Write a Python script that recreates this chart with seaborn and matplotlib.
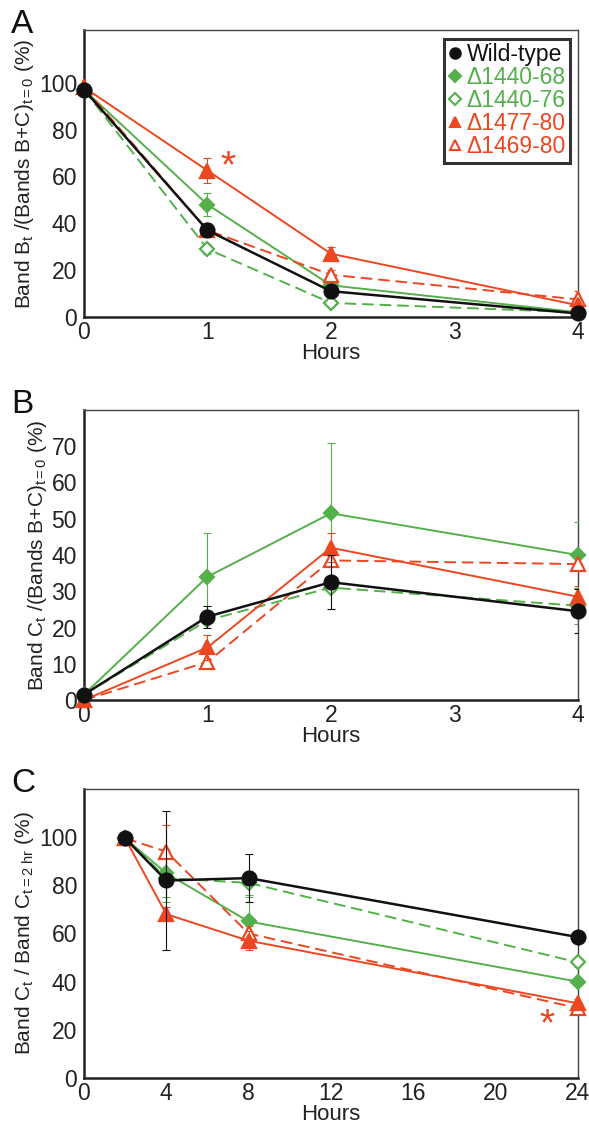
import numpy as np
import pandas as pd
import matplotlib
matplotlib.use('Agg')
import matplotlib.pyplot as plt
import seaborn as sns
from matplotlib.lines import Line2D

# --- DATA ---
SERIES = ["Wild-type", "\u03941440-68", "\u03941440-76", "\u03941477-80", "\u03941469-80"]

HOURS_AB = [0, 1, 2, 4]
HOURS_C = [2, 4, 8, 24]

A_VALUES = {
    "Wild-type": [97, 37, 11, 1.5],
    "\u03941440-68": [97, 48, 13.5, 2],
    "\u03941440-76": [97, 29, 6, 2],
    "\u03941477-80": [98, 62.5, 27, 5],
    "\u03941469-80": [98, 37, 18, 7.5],
}
A_ERR = {
    "Wild-type": [0, 3, 1.5, 1],
    "\u03941440-68": [0, 5, 2, 0],
    "\u03941440-76": [0, 2, 1, 0],
    "\u03941477-80": [0, 5.5, 3, 6],
    "\u03941469-80": [0, 0, 2, 0],
}

B_VALUES = {
    "Wild-type": [1.5, 23, 32.5, 24.5],
    "\u03941440-68": [1.5, 34, 51.5, 40],
    "\u03941440-76": [1.5, 22, 31, 26],
    "\u03941477-80": [0, 14.5, 42, 28.5],
    "\u03941469-80": [0, 10.5, 38.5, 37.5],
}
B_ERR = {
    "Wild-type": [0, 3, 7.5, 6],
    "\u03941440-68": [0, 12, 19.5, 9],
    "\u03941440-76": [0, 0, 0, 5],
    "\u03941477-80": [0, 3.5, 4, 3],
    "\u03941469-80": [0, 0, 0, 0],
}

C_VALUES = {
    "Wild-type": [99.5, 82, 83, 58.5],
    "\u03941440-68": [99.5, 85, 65, 40],
    "\u03941440-76": [99.5, 83, 81, 48],
    "\u03941477-80": [99.5, 68, 57, 31],
    "\u03941469-80": [99.5, 94, 60, 29],
}
C_ERR = {
    "Wild-type": [0, 29, 10, 2],
    "\u03941440-68": [0, 10, 10, 2],
    "\u03941440-76": [0, 10, 5, 2],
    "\u03941477-80": [0, 3, 4, 2],
    "\u03941469-80": [0, 11, 3, 2],
}

# --- STYLE ---
BLACK = "#111111"
GREEN = "#54b04a"
RED = "#ec4720"
STYLE = {
    "Wild-type": dict(color=BLACK, marker="o", ls="-", fill=True, ms=10, lw=1.8),
    "\u03941440-68": dict(color=GREEN, marker="D", ls="-", fill=True, ms=7.5, lw=1.4),
    "\u03941440-76": dict(color=GREEN, marker="D", ls="--", fill=False, ms=7.5, lw=1.4),
    "\u03941477-80": dict(color=RED, marker="^", ls="-", fill=True, ms=10, lw=1.4),
    "\u03941469-80": dict(color=RED, marker="^", ls="--", fill=False, ms=10, lw=1.4),
}
ZORDER = {"Wild-type": 6, "\u03941440-68": 4, "\u03941440-76": 3, "\u03941477-80": 5, "\u03941469-80": 4}

sns.set_style("white")
plt.rcParams['font.family'] = ['Liberation Sans', 'DejaVu Sans']
plt.rcParams['mathtext.fontset'] = 'custom'
plt.rcParams['mathtext.rm'] = 'Liberation Sans'
plt.rcParams['mathtext.it'] = 'Liberation Sans'


def draw_panel(ax, hours, values, errs):
    for name in SERIES:
        st = STYLE[name]
        df = pd.DataFrame({"Hours": hours, "val": values[name]})
        e = np.array(errs[name], dtype=float)
        mask = e > 0
        if mask.any():
            ax.errorbar(np.array(hours)[mask], np.array(values[name])[mask], yerr=e[mask],
                        fmt="none", ecolor=st["color"], elinewidth=0.8, capsize=3,
                        capthick=0.8, zorder=ZORDER[name] - 0.5)
        sns.lineplot(data=df, x="Hours", y="val", ax=ax, color=st["color"],
                     linestyle=st["ls"], linewidth=st["lw"], marker=st["marker"],
                     markersize=st["ms"],
                     markerfacecolor=st["color"] if st["fill"] else "white",
                     markeredgecolor=st["color"], markeredgewidth=1.6,
                     zorder=ZORDER[name], clip_on=False, errorbar=None)
        if st["ls"] == "--":
            ax.lines[-1].set_dashes([6, 3])
    for side in ["top", "right"]:
        ax.spines[side].set_linewidth(1.0)
        ax.spines[side].set_color("#444444")
    for side in ["left", "bottom"]:
        ax.spines[side].set_linewidth(1.8)
        ax.spines[side].set_color("#222222")
    ax.tick_params(axis="both", labelsize=16.5, colors="#222222", length=4, width=1.2)
    ax.tick_params(axis="x", direction="inout", pad=1)
    ax.tick_params(axis="y", direction="out", pad=1)
    ax.set_xlabel("Hours", fontsize=16, labelpad=-1, color="#222222")


fig = plt.figure(figsize=(5.89, 11.3), dpi=100)
axA = fig.add_axes([0.1426, 0.7195, 0.8384, 0.254])
axB = fig.add_axes([0.1426, 0.3805, 0.8384, 0.2567])
axC = fig.add_axes([0.1426, 0.046, 0.8384, 0.2558])

draw_panel(axA, HOURS_AB, A_VALUES, A_ERR)
axA.set_xlim(0, 4)
axA.set_ylim(0, 122.5)
axA.set_xticks([0, 1, 2, 3, 4])
axA.set_yticks([0, 20, 40, 60, 80, 100])
axA.set_ylabel(r"Band B$_\mathregular{t}$ /(Bands B+C)$_\mathregular{t=0}$ (%)", fontsize=15, labelpad=2)
axA.text(1.17, 64, "*", color=RED, fontsize=28, ha="center", va="center")

draw_panel(axB, HOURS_AB, B_VALUES, B_ERR)
axB.set_xlim(0, 4)
axB.set_ylim(0, 80)
axB.set_xticks([0, 1, 2, 3, 4])
axB.set_yticks([0, 10, 20, 30, 40, 50, 60, 70])
axB.set_ylabel(r"Band C$_\mathregular{t}$ /(Bands B+C)$_\mathregular{t=0}$ (%)", fontsize=15, labelpad=2)

draw_panel(axC, HOURS_C, C_VALUES, C_ERR)
axC.set_xlim(0, 24)
axC.set_ylim(0, 120)
axC.set_xticks([0, 4, 8, 12, 16, 20, 24])
axC.set_yticks([0, 20, 40, 60, 80, 100])
axC.set_ylabel(r"Band C$_\mathregular{t}$ / Band C$_\mathregular{t=2\ hr}$ (%)", fontsize=15, labelpad=2)
axC.text(22.5, 22, "*", color=RED, fontsize=28, ha="center", va="center")

# legend in panel A
handles = []
for name in SERIES:
    st = STYLE[name]
    handles.append(Line2D([], [], linestyle="none", marker=st["marker"], color=st["color"],
                          markersize=st["ms"] * 0.75,
                          markerfacecolor=st["color"] if st["fill"] else "white",
                          markeredgewidth=1.5))
leg = axA.legend(handles, SERIES, loc="upper right", bbox_to_anchor=(0.985, 0.97),
                 fontsize=16.5, frameon=True, fancybox=False, handlelength=0.6,
                 handletextpad=0.2, labelspacing=0.0, borderpad=0.2, borderaxespad=0)
leg.get_frame().set_edgecolor("black")
leg.get_frame().set_linewidth(2.2)
for txt, name in zip(leg.get_texts(), SERIES):
    txt.set_color(STYLE[name]["color"])

for ax, letter in [(axA, "A"), (axB, "B"), (axC, "C")]:
    ax.text(-0.148, 0.99, letter, transform=ax.transAxes, fontsize=24,
            ha="left", va="baseline", color="#111111")
for lab in [axA.yaxis.label, axB.yaxis.label, axC.yaxis.label]:
    lab.set_color("#222222")

fig.savefig("out.png", dpi=100)
